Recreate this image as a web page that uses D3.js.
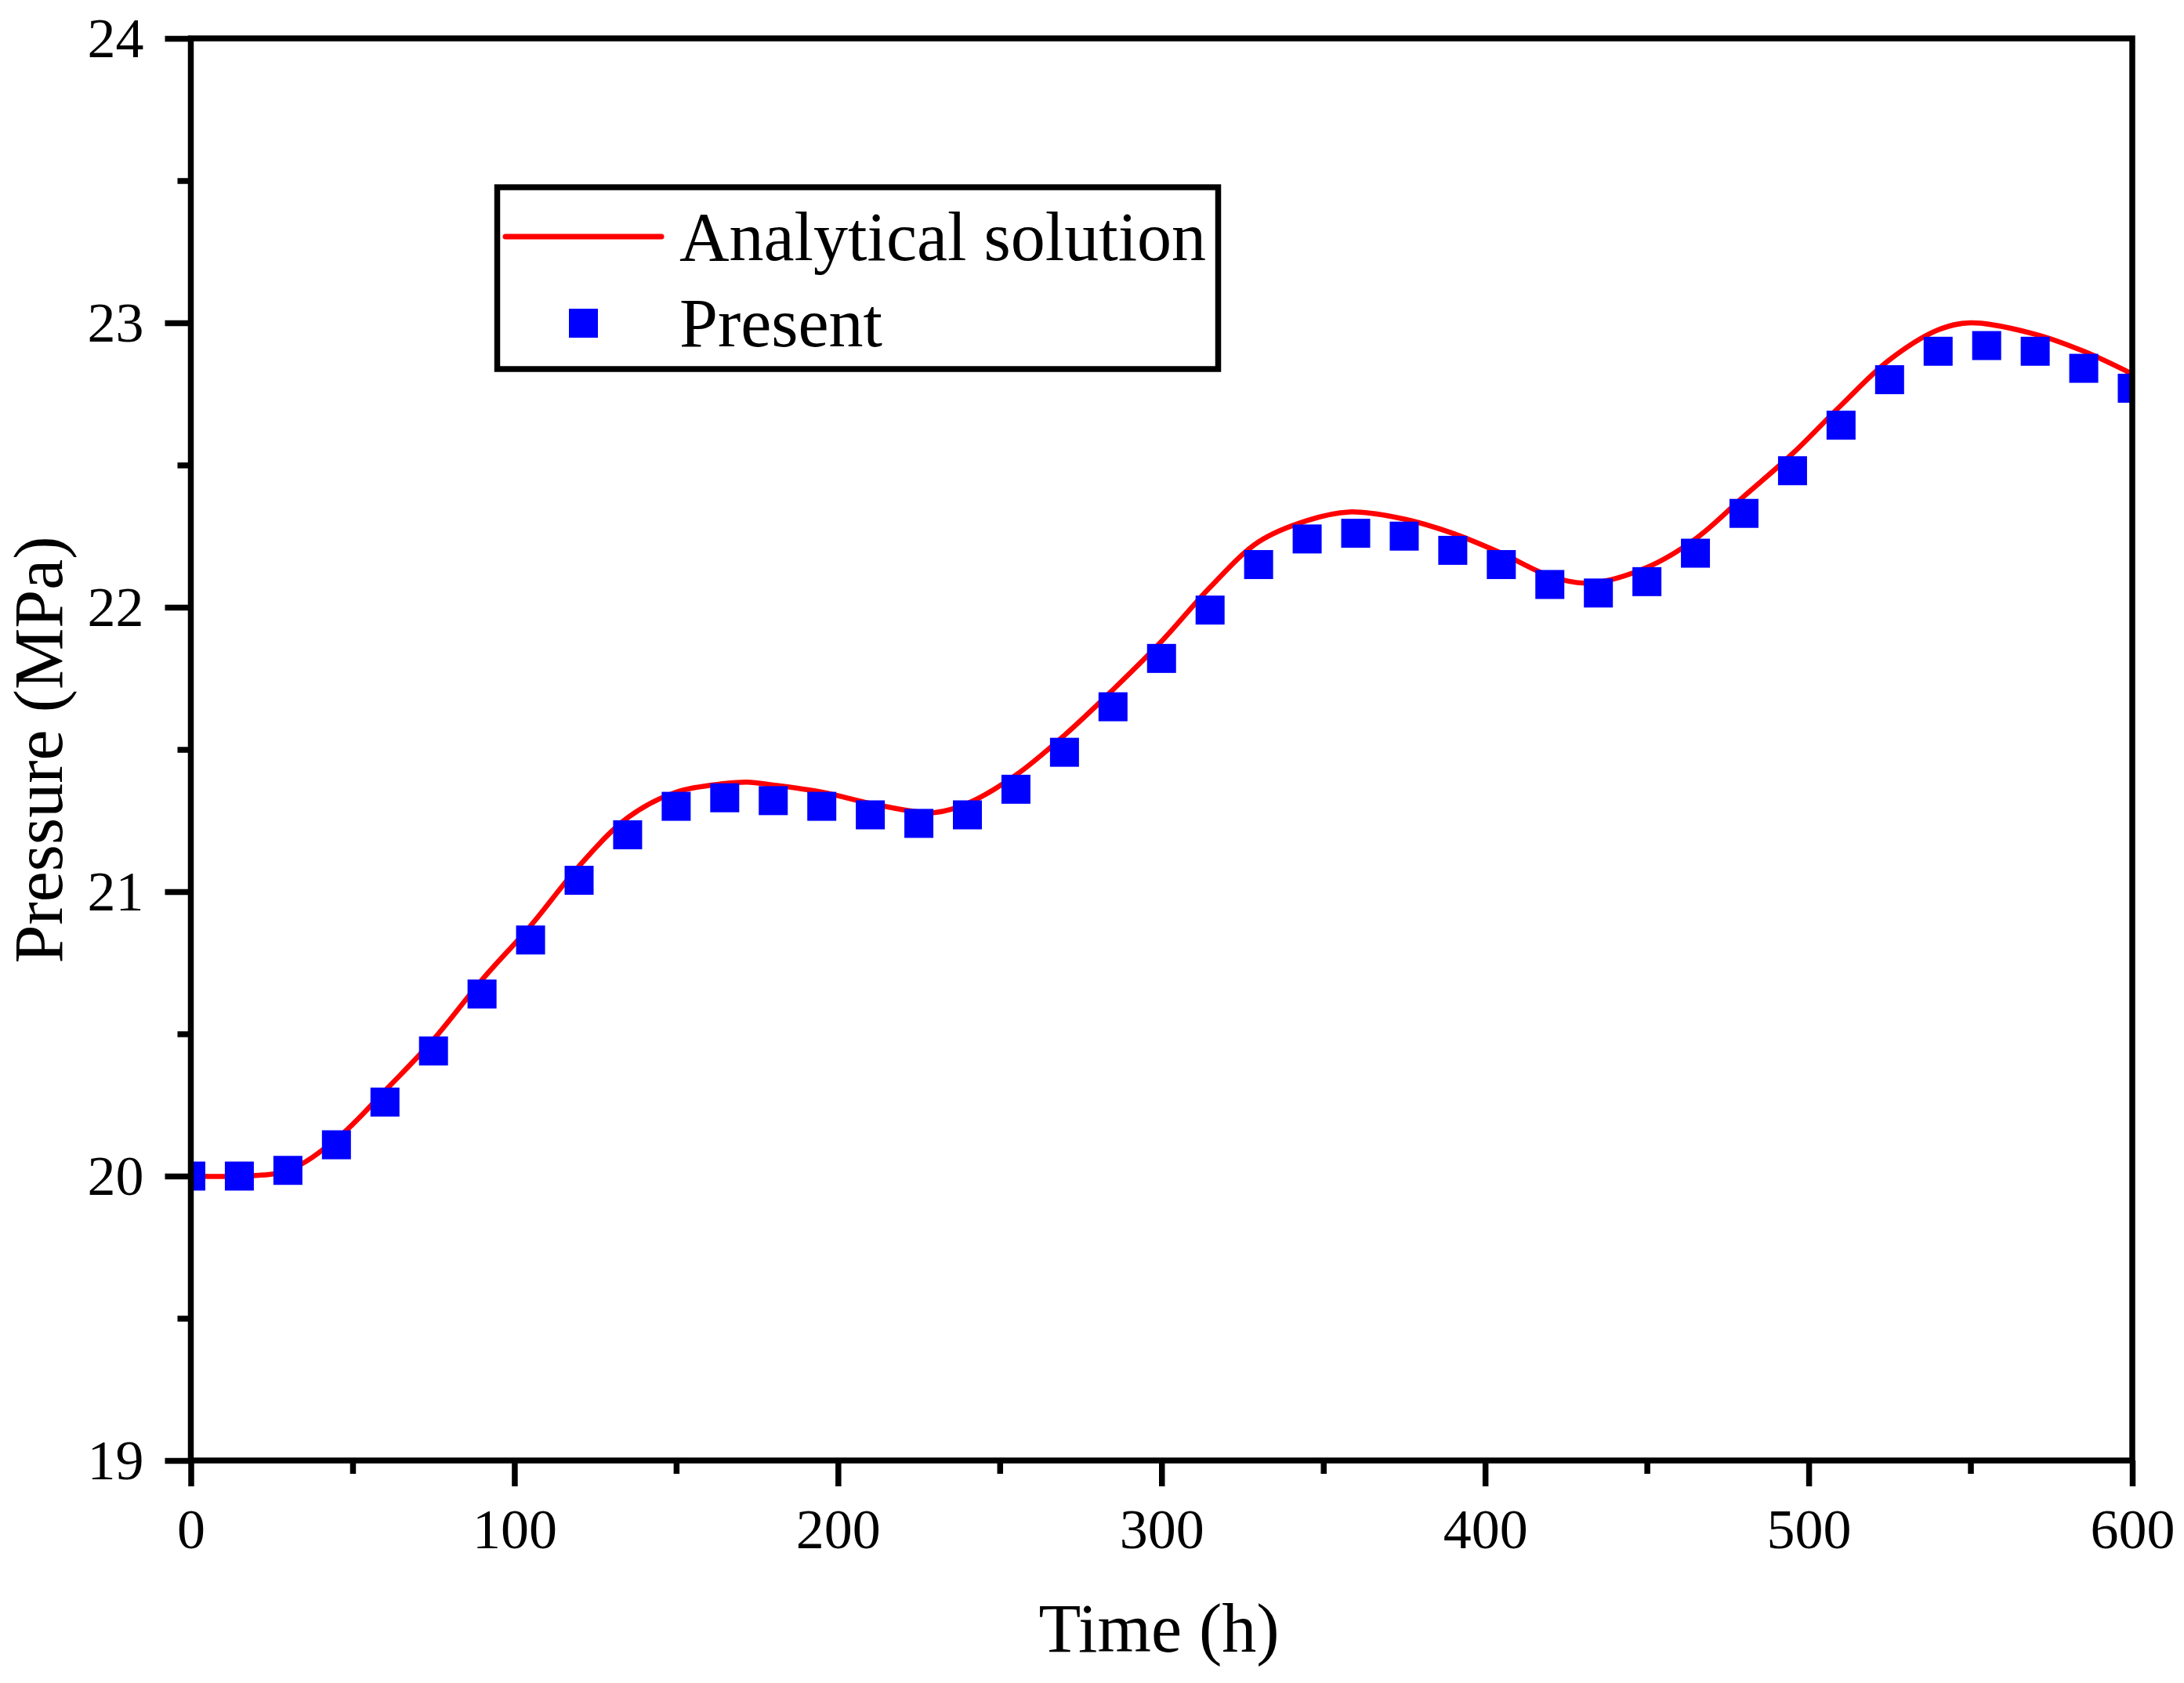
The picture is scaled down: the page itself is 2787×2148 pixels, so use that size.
<!DOCTYPE html>
<html>
<head>
<meta charset="utf-8">
<script src="https://cdn.jsdelivr.net/npm/d3@7"></script>
<style>
  html, body { margin: 0; padding: 0; background: #fff; }
  svg { display: block; }
  text { font-family: "Liberation Serif", "Times New Roman", serif; fill: #000; }
</style>
</head>
<body>
<div id="chart"></div>
<script>
// simulated points (every 15 h)
const timeH = [0, 15, 30, 45, 60, 75, 90, 105, 120, 135, 150, 165, 180, 195, 210, 225, 240, 255, 270, 285,
  300, 315, 330, 345, 360, 375, 390, 405, 420, 435, 450, 465, 480, 495, 510, 525, 540, 555, 570, 585, 600];
const presentP = [20.00, 20.00, 20.02, 20.11, 20.26, 20.44, 20.64, 20.83, 21.04, 21.20, 21.30, 21.33, 21.32, 21.30,
  21.27, 21.24, 21.27, 21.36, 21.49, 21.65, 21.82, 21.99, 22.15, 22.24, 22.26, 22.25, 22.20, 22.15, 22.08, 22.05,
  22.09, 22.19, 22.33, 22.48, 22.64, 22.80, 22.90, 22.92, 22.90, 22.84, 22.77];

// analytical curve
const analyticalT = [0, 15, 30, 45, 60, 75, 90, 105, 120, 135, 150, 165, 172, 180, 195, 210, 225, 230, 240, 255,
  270, 285, 300, 315, 330, 345, 358, 375, 390, 405, 420, 432, 450, 465, 480, 495, 510, 525, 540, 550, 570, 585, 600];
const analyticalP = [20.00, 20.00, 20.02, 20.13, 20.30, 20.48, 20.69, 20.88, 21.09, 21.26, 21.35, 21.38, 21.385, 21.375,
  21.35, 21.31, 21.28, 21.278, 21.31, 21.41, 21.55, 21.71, 21.88, 22.07, 22.23, 22.305, 22.335, 22.31, 22.26, 22.19,
  22.11, 22.085, 22.14, 22.24, 22.39, 22.54, 22.71, 22.87, 22.975, 23.00, 22.96, 22.90, 22.82];

const xTicks = [0, 100, 200, 300, 400, 500, 600];
const xMinorTicks = [50, 150, 250, 350, 450, 550];
const yTicks = [19, 20, 21, 22, 23, 24];
const yMinorTicks = [19.5, 20.5, 21.5, 22.5, 23.5];
const legendLabels = ["Analytical solution", "Present"];

const W = 2787, H = 2148;
const plotLeft = 243.5, plotRight = 2721, plotTop = 49, plotBottom = 1864;
const axisWidth = 7.5;

const x = d3.scaleLinear().domain([0, 600]).range([plotLeft, plotRight]);
const y = d3.scaleLinear().domain([19, 24]).range([plotBottom, plotTop]);

const svg = d3.select("#chart").append("svg")
  .attr("width", W)
  .attr("height", H);

svg.append("rect").attr("width", W).attr("height", H).attr("fill", "#fff");

svg.append("clipPath").attr("id", "plotClip")
  .append("rect")
  .attr("x", plotLeft).attr("y", plotTop)
  .attr("width", plotRight - plotLeft).attr("height", plotBottom - plotTop);

const plot = svg.append("g").attr("clip-path", "url(#plotClip)");

const line = d3.line()
  .x(d => x(d[0]))
  .y(d => y(d[1]))
  .curve(d3.curveCatmullRom.alpha(0.5));

plot.append("path")
  .datum(d3.zip(analyticalT, analyticalP))
  .attr("d", line)
  .attr("fill", "none")
  .attr("stroke", "#ff0000")
  .attr("stroke-width", 6.5)
  .attr("stroke-linejoin", "round");

const sq = 37;
plot.selectAll("rect.pt")
  .data(d3.zip(timeH, presentP))
  .join("rect")
  .attr("class", "pt")
  .attr("x", d => x(d[0]) - sq / 2)
  .attr("y", d => y(d[1]) - sq / 2)
  .attr("width", sq)
  .attr("height", sq)
  .attr("fill", "#0000ff");

// axes
const styleAxis = (g) => {
  g.select(".domain").remove();
  g.selectAll(".tick line").attr("stroke", "#000").attr("stroke-width", axisWidth);
};

svg.append("g")
  .attr("transform", `translate(0,${plotBottom})`)
  .call(d3.axisBottom(x).tickValues(xMinorTicks).tickSize(17).tickFormat(""))
  .call(styleAxis);

svg.append("g")
  .attr("transform", `translate(0,${plotBottom})`)
  .call(d3.axisBottom(x).tickValues(xTicks).tickSize(33).tickFormat(d3.format("d")))
  .call(styleAxis)
  .call(g => g.selectAll(".tick text")
    .attr("y", 112).attr("dy", 0)
    .attr("font-size", 72).style("font-family", "Liberation Serif"));

svg.append("g")
  .attr("transform", `translate(${plotLeft},0)`)
  .call(d3.axisLeft(y).tickValues(yMinorTicks).tickSize(17).tickFormat(""))
  .call(styleAxis);

svg.append("g")
  .attr("transform", `translate(${plotLeft},0)`)
  .call(d3.axisLeft(y).tickValues(yTicks).tickSize(33).tickFormat(d3.format("d")))
  .call(styleAxis)
  .call(g => g.selectAll(".tick text")
    .attr("x", -60).attr("dy", "0.33em")
    .attr("font-size", 72).style("font-family", "Liberation Serif"));

// frame
svg.append("rect")
  .attr("x", plotLeft).attr("y", plotTop)
  .attr("width", plotRight - plotLeft).attr("height", plotBottom - plotTop)
  .attr("fill", "none").attr("stroke", "#000").attr("stroke-width", axisWidth);

// titles
svg.append("text")
  .attr("x", 1479).attr("y", 2108)
  .attr("text-anchor", "middle")
  .attr("font-size", 88)
  .text("Time (h)");

svg.append("text")
  .attr("transform", "translate(79,957) rotate(-90)")
  .attr("text-anchor", "middle")
  .attr("font-size", 88)
  .text("Pressure (MPa)");

// legend
const legend = svg.append("g");
legend.append("rect")
  .attr("x", 634.5).attr("y", 239)
  .attr("width", 920).attr("height", 232)
  .attr("fill", "#fff").attr("stroke", "#000").attr("stroke-width", axisWidth);
legend.append("line")
  .attr("x1", 645).attr("x2", 844).attr("y1", 302).attr("y2", 302)
  .attr("stroke", "#ff0000").attr("stroke-width", 7).attr("stroke-linecap", "round");
legend.append("rect")
  .attr("x", 744.5 - sq / 2).attr("y", 412.5 - sq / 2)
  .attr("width", sq).attr("height", sq)
  .attr("fill", "#0000ff");
legend.selectAll("text.lg")
  .data(legendLabels)
  .join("text")
  .attr("class", "lg")
  .attr("x", 867)
  .attr("y", (d, i) => 332 + i * 110)
  .attr("font-size", 88)
  .text(d => d);
</script>
</body>
</html>
